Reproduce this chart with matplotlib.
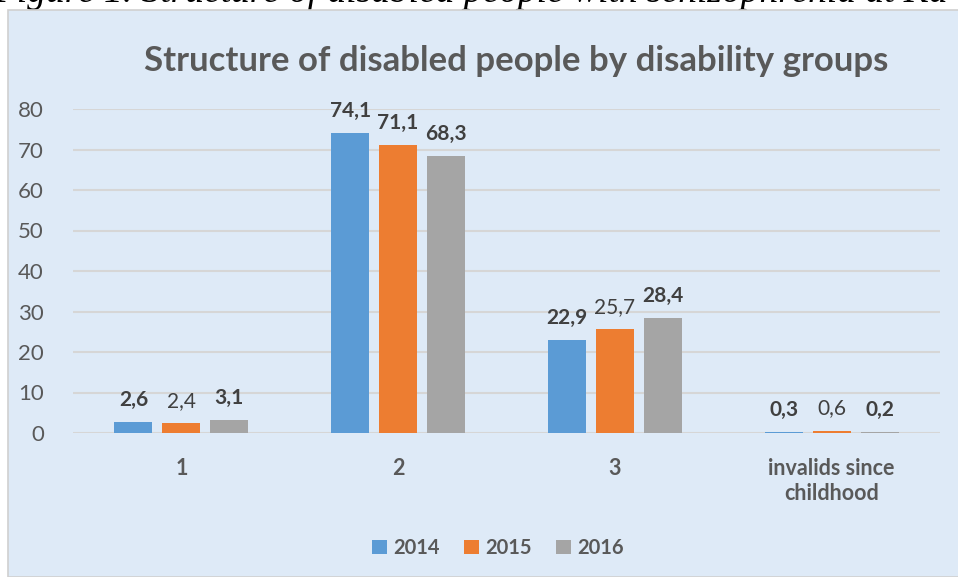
import matplotlib.pyplot as plt
import numpy as np
from matplotlib.patches import Rectangle
from matplotlib.transforms import IdentityTransform

# Data
groups = ["1", "2", "3", "invalids since\nchildhood"]
years = ["2014", "2015", "2016"]
v2014 = [2.6, 74.1, 22.9, 0.3]
v2015 = [2.4, 71.1, 25.7, 0.6]
v2016 = [3.1, 68.3, 28.4, 0.2]
# which data labels are drawn bold in the original
bold2014 = [True, True, True, True]
bold2015 = [False, True, False, False]
bold2016 = [True, True, True, True]

colors = ["#5B9BD5", "#ED7D31", "#A5A5A5"]
txt = "#595959"
plt.rcParams['font.family'] = ['Lato', 'DejaVu Sans']

fig = plt.figure(figsize=(9.58, 5.77), dpi=100, facecolor="white")

# light blue chart panel
panel = Rectangle((8 / 958, 0), 1, 1 - 10 / 577, transform=fig.transFigure,
                  facecolor="#DEEAF7", edgecolor="#D0D0D0", linewidth=1.2, zorder=-5)
fig.patches.append(panel)

# cut-off caption above the panel (baseline 2 px below the top edge)
fig.text(-6, 575, "Figure 1. Structure of disabled people with schizophrenia at Ka",
         transform=IdentityTransform(), family="Liberation Serif", style="italic",
         fontsize=27, va="baseline", ha="left", color="black", zorder=-6)

fig.text(0.539, 0.895, "Structure of disabled people by disability groups",
         fontsize=25, fontweight="bold", color=txt, ha="center", va="center")

ax = fig.add_axes([73 / 958, 1 - 433 / 577, (940 - 73) / 958, (433 - 109) / 577])
ax.set_facecolor("none")
ax.set_zorder(2)

x = np.arange(len(groups))
w = 38 / 217
step = 48 / 217
series = [v2014, v2015, v2016]
bolds = [bold2014, bold2015, bold2016]
for i, (vals, c, yr, bl) in enumerate(zip(series, colors, years, bolds)):
    pos = x + (i - 1) * step
    ax.bar(pos, vals, width=w, color=c, label=yr, zorder=3)
    for p, v, b in zip(pos, vals, bl):
        ax.text(p, v + 3.0, f"{v:.1f}".replace(".", ","), ha="center", va="bottom",
                fontsize=15, color="#404040", fontweight="bold" if b else "normal")

ax.set_xlim(-0.5, len(groups) - 0.5)
ax.set_ylim(0, 80)
ax.set_yticks(range(0, 81, 10))
ax.set_xticks(x)
ax.set_xticklabels(groups, fontsize=15.5, fontweight="bold", color=txt, linespacing=1.25)
ax.tick_params(axis="y", labelsize=16, labelcolor=txt, length=0, pad=21)
ax.tick_params(axis="x", length=0, pad=18)
ax.grid(axis="y", color="#D6D6D6", linewidth=1.5, zorder=0)
for s in ax.spines.values():
    s.set_visible(False)

ax.legend(loc="center", bbox_to_anchor=(0.49, -0.355), ncol=3, frameon=False,
          prop={"weight": "bold", "size": 14.5}, labelcolor=txt, handlelength=0.75,
          handleheight=0.75, handletextpad=0.3, columnspacing=1.2)

fig.savefig("out.png", dpi=100, facecolor="white")
